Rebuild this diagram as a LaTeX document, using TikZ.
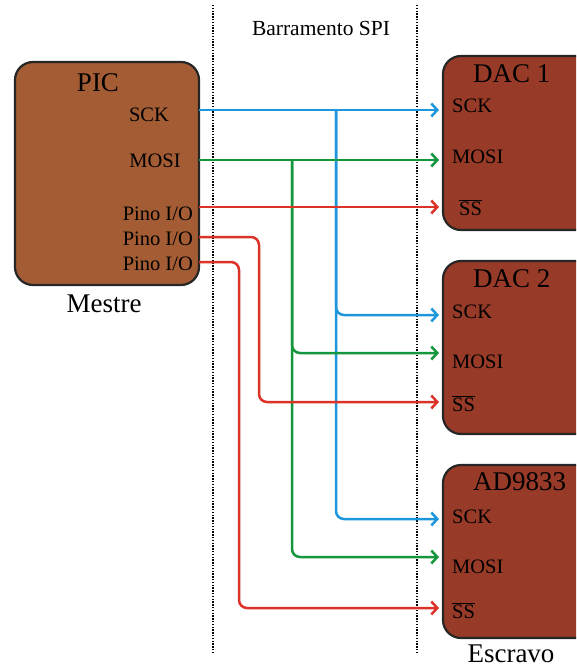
\documentclass[tikz,border=0pt]{standalone}
\usepackage{fontspec}
\setmainfont{Liberation Serif}
\usetikzlibrary{arrows.meta}
\definecolor{picc}{RGB}{163,92,52}
\definecolor{dacc}{RGB}{152,58,40}
\definecolor{sckc}{RGB}{30,150,220}
\definecolor{mosic}{RGB}{20,150,60}
\definecolor{ssc}{RGB}{220,50,40}
\newcommand{\nss}{$\overline{\hbox{SS}}$}

\begin{document}
\begin{tikzpicture}[x=1pt,y=-1pt,
  chip/.style={draw=black!85,line width=2.2pt,rounded corners=18pt,inner sep=0pt},
  pinl/.style={font=\fontsize{20.5}{20.5}\selectfont,inner sep=0pt},
  ttl/.style={font=\fontsize{27}{27}\selectfont,inner sep=0pt},
  wire/.style={line width=2.5pt,rounded corners=8pt,
    -{Straight Barb[length=6pt,width=13pt,line width=2.5pt]}},
  bus/.style={line width=2.4pt,dash pattern=on 1.4pt off 1.4pt}]
\useasboundingbox (0,0) rectangle (576,668);
\clip (0,0) rectangle (576,668);
% ---- bus borders ----
\coordinate (bl0) at (213,5);
\coordinate (bl1) at (213,654);
\coordinate (br0) at (417,5);
\coordinate (br1) at (417,654);
\draw[bus] (bl0) -- (bl1);
\draw[bus] (br0) -- (br1);
\node[anchor=base,font=\fontsize{21.5}{21.5}\selectfont,inner sep=0pt] (blab) at (321,36) {Barramento SPI};
% ---- master ----
\node[chip,fill=picc,minimum width=184pt,minimum height=223pt] (pic) at (107,173.5) {};
\node[ttl,anchor=base] (pict) at (98,92) {PIC};
\node[pinl,anchor=base] (psckl) at (149,122) {SCK};
\node[pinl,anchor=base] (pmosil) at (155,168) {MOSI};
\node[pinl,anchor=base east] (pio1) at (193,220) {Pino I/O};
\node[pinl,anchor=base east] (pio2) at (193,245) {Pino I/O};
\node[pinl,anchor=base east] (pio3) at (193,270) {Pino I/O};
\node[ttl,anchor=base] (mestre) at (104,312) {Mestre};
\coordinate (psck) at (199,110);
\coordinate (pmosi) at (199,160);
\coordinate (pss1) at (199,207);
\coordinate (pss2) at (199,237);
\coordinate (pss3) at (199,262);
% ---- slaves ----
\node[chip,fill=dacc,minimum width=160pt,minimum height=174pt] (dac1) at (523,143) {};
\node[chip,fill=dacc,minimum width=160pt,minimum height=173pt] (dac2) at (523,347.5) {};
\node[chip,fill=dacc,minimum width=160pt,minimum height=173pt] (dac3) at (523,551.5) {};
\node[ttl,anchor=base west] (dac1t) at (473,83) {DAC 1};
\node[ttl,anchor=base west] (dac2t) at (473,287) {DAC 2};
\node[ttl,anchor=base west] (dac3t) at (473,490) {AD9833};
\node[pinl,anchor=base west] (d1sckl) at (452,113) {SCK};
\node[pinl,anchor=base west] (d1mosil) at (452,164) {MOSI};
\node[pinl,anchor=base west] (d1ssl) at (459,215) {\nss};
\node[pinl,anchor=base west] (d2sckl) at (452,318) {SCK};
\node[pinl,anchor=base west] (d2mosil) at (452,368) {MOSI};
\node[pinl,anchor=base west] (d2ssl) at (452,411) {\nss};
\node[pinl,anchor=base west] (d3sckl) at (452,523) {SCK};
\node[pinl,anchor=base west] (d3mosil) at (452,573) {MOSI};
\node[pinl,anchor=base west] (d3ssl) at (452,618) {\nss};
\node[ttl,anchor=base] (escravo) at (511,662) {Escravo};
\coordinate (d1sck) at (439,110);
\coordinate (d1mosi) at (439,160);
\coordinate (d1ss) at (439,207);
\coordinate (d2sck) at (439,315);
\coordinate (d2mosi) at (439,353);
\coordinate (d2ss) at (439,402);
\coordinate (d3sck) at (439,519);
\coordinate (d3mosi) at (439,557);
\coordinate (d3ss) at (439,608);
% ---- SPI wires ----
\coordinate (sckj) at (336,110);
\coordinate (mosij) at (292,160);
\draw[wire,sckc] (psck) -- (d1sck);
\draw[wire,sckc] (sckj) |- (d2sck);
\draw[wire,sckc] (sckj) |- (d3sck);
\draw[wire,mosic] (pmosi) -- (d1mosi);
\draw[wire,mosic] (mosij) |- (d2mosi);
\draw[wire,mosic] (mosij) |- (d3mosi);
\draw[wire,ssc] (pss1) -- (d1ss);
\draw[wire,ssc] (pss2) -- ++(60,0) |- (d2ss);
\draw[wire,ssc] (pss3) -- ++(40,0) |- (d3ss);
\end{tikzpicture}
\end{document}
